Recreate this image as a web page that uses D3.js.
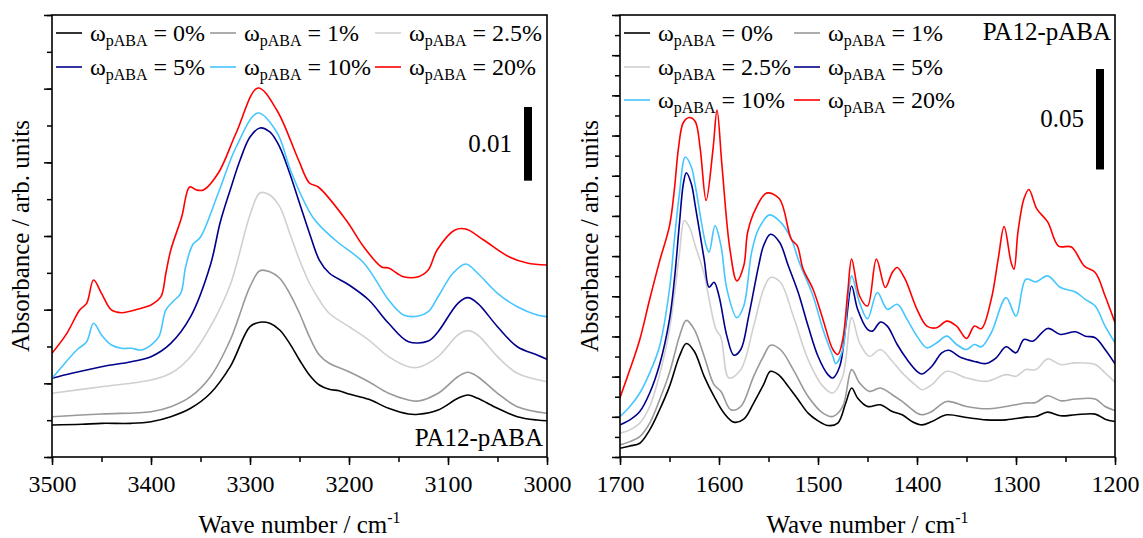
<!DOCTYPE html>
<html>
<head>
<meta charset="utf-8">
<script src="https://cdn.jsdelivr.net/npm/d3@7/dist/d3.min.js"></script>
<style>
  body { margin: 0; background: #fff; }
  svg { display: block; }
  svg text { font-family: "Liberation Serif", "Times New Roman", Times, "DejaVu Serif", serif !important; fill: #000; }
</style>
</head>
<body>
<svg id="chart" width="1143" height="538"></svg>
<script>
// pABA mass fractions, one curve each
var loadings = ["0%", "1%", "2.5%", "5%", "10%", "20%"];
var colors = ["#000000", "#999999", "#d0d0d0", "#00008b", "#45c6ff", "#ff0000"];

// N-H stretching region, [wave number, absorbance x 1e-3] (offset curves)
var nh0 = [[3500,4.34],[3470,4.44],[3450,4.57],[3420,4.57],[3400,4.79],[3380,5.47],[3360,6.61],[3340,8.65],[3320,12.26],[3300,17.69],[3290,18.29],[3280,18.15],[3270,17.24],[3260,15.43],[3250,13.17],[3240,11.13],[3230,9.77],[3220,9.19],[3210,9.0],[3200,8.55],[3180,7.83],[3160,6.61],[3140,5.84],[3130,5.80],[3110,6.38],[3090,7.97],[3080,8.42],[3070,7.97],[3050,6.61],[3030,5.47],[3010,5.02],[3000,4.93]];
var nh1 = [[3500,5.47],[3450,5.84],[3400,6.15],[3380,6.83],[3360,8.19],[3340,10.90],[3320,15.88],[3300,23.12],[3290,25.29],[3280,25.15],[3270,24.26],[3260,22.22],[3250,19.51],[3240,16.33],[3230,13.85],[3220,12.72],[3200,11.58],[3180,10.22],[3160,8.65],[3140,7.74],[3130,7.60],[3110,8.65],[3090,10.90],[3080,11.50],[3070,10.90],[3050,8.65],[3030,6.83],[3000,5.93]];
var nh2_5 = [[3500,8.65],[3450,9.54],[3400,10.45],[3380,11.36],[3360,13.62],[3340,17.69],[3320,23.35],[3300,32.85],[3290,35.84],[3280,35.57],[3270,33.98],[3260,30.41],[3250,26.74],[3240,23.62],[3230,21.31],[3220,19.51],[3200,17.69],[3180,15.88],[3160,13.62],[3140,12.26],[3130,12.18],[3110,13.62],[3090,16.56],[3080,17.15],[3070,16.56],[3050,13.62],[3030,11.36],[3000,10.22]];
var nh5 = [[3500,10.68],[3480,11.36],[3450,12.26],[3420,12.94],[3400,13.62],[3380,15.43],[3360,19.05],[3340,26.06],[3330,31.90],[3320,36.25],[3310,40.32],[3300,43.44],[3290,44.66],[3280,44.12],[3270,42.08],[3260,38.55],[3250,34.48],[3240,30.41],[3230,26.74],[3220,24.98],[3200,23.35],[3180,21.31],[3160,18.15],[3140,15.65],[3120,15.75],[3110,17.01],[3090,20.86],[3080,21.63],[3070,20.86],[3050,17.69],[3030,14.97],[3010,13.85],[3000,13.26]];
var nh10 = [[3500,10.68],[3490,12.26],[3475,14.53],[3465,15.65],[3458,18.15],[3450,16.56],[3440,15.20],[3430,14.76],[3420,14.76],[3410,14.53],[3400,15.20],[3392,16.33],[3385,19.96],[3378,21.08],[3370,22.22],[3365,25.83],[3358,28.78],[3350,29.87],[3332,35.84],[3314,42.08],[3292,46.70],[3273,44.12],[3258,38.55],[3236,32.44],[3214,29.46],[3185,26.34],[3160,21.31],[3145,19.28],[3130,19.14],[3120,19.72],[3110,21.76],[3095,24.94],[3082,26.20],[3070,24.94],[3050,22.22],[3030,20.40],[3010,19.28],[3000,19.05]];
var nh20 = [[3500,14.08],[3485,16.79],[3472,19.96],[3465,20.86],[3458,24.03],[3450,22.22],[3440,19.96],[3430,19.59],[3410,20.19],[3400,20.63],[3390,21.76],[3385,24.94],[3380,28.10],[3369,32.58],[3361,36.65],[3354,36.25],[3347,36.25],[3332,38.55],[3314,43.98],[3292,50.09],[3273,47.11],[3251,40.32],[3240,37.20],[3231,36.65],[3203,32.17],[3185,28.51],[3167,25.79],[3160,25.66],[3145,24.48],[3130,24.48],[3120,25.39],[3111,28.10],[3093,30.82],[3082,30.95],[3064,29.46],[3038,27.15],[3020,26.34],[3000,26.06]];

// fingerprint region, [wave number, absorbance x 1e-3]
var fp0 = [[1700,4.35],[1690,5.5],[1680,6.85],[1670,13.5],[1660,23.5],[1650,35.15],[1640,50.15],[1633,56.5],[1625,52.65],[1615,40.15],[1605,30.15],[1595,21.85],[1585,17.35],[1575,18.85],[1565,26.85],[1555,36],[1548,42.65],[1540,41],[1530,35.15],[1520,28.5],[1510,21.85],[1500,18],[1490,15.65],[1480,16.85],[1472,26.85],[1466,34.35],[1460,29.35],[1450,25.15],[1437,26],[1425,22.65],[1415,21],[1405,17.65],[1395,16],[1385,17.65],[1370,21],[1350,19.65],[1330,18.5],[1310,18.5],[1290,19.85],[1280,20.15],[1268,22.35],[1255,20.5],[1240,21],[1220,21.35],[1210,18.85],[1200,17.65]];
var fp1 = [[1700,6],[1690,7.65],[1680,10.15],[1670,16.85],[1660,28.5],[1650,42],[1645,51],[1640,60],[1633,68],[1625,63.5],[1615,50.15],[1605,36],[1598,32.65],[1588,23.5],[1578,25.15],[1565,40.15],[1555,50.15],[1548,55.65],[1538,53.5],[1525,43.5],[1510,30.15],[1495,21.85],[1485,20.15],[1475,25.15],[1466,43.5],[1458,36.85],[1448,32.65],[1437,34.35],[1425,31],[1415,27.65],[1400,21.85],[1395,21],[1385,22.65],[1370,27.65],[1350,25.15],[1330,24],[1310,25.15],[1290,26.85],[1280,27.15],[1268,30.5],[1255,28],[1240,28.85],[1220,28.85],[1210,25.15],[1200,23.15]];
var fp2_5 = [[1700,11.85],[1690,13.5],[1680,16.85],[1670,25.15],[1660,41],[1650,63.5],[1645,81],[1640,101],[1635,117.65],[1630,114.5],[1624,105.15],[1615,91],[1610,78.5],[1603,63.5],[1598,59.5],[1590,39.35],[1578,43.5],[1565,65.15],[1555,83.5],[1548,89.35],[1538,87],[1525,70.15],[1510,48.5],[1495,35.15],[1485,31.85],[1475,40.15],[1466,69.35],[1458,56.85],[1448,50.15],[1437,53.5],[1425,47.65],[1415,41.85],[1400,35.15],[1395,33.5],[1385,36],[1370,42.65],[1350,39.35],[1330,37.65],[1310,41],[1300,40.15],[1290,43.5],[1280,43.5],[1268,48.85],[1255,46],[1240,46.85],[1220,46],[1210,41.85],[1200,37.15]];
var fp5 = [[1700,16],[1690,18.5],[1680,22.65],[1670,31.85],[1660,46],[1650,68.5],[1645,88.5],[1640,116],[1636,136],[1633,141.5],[1628,136],[1624,125.15],[1615,98.5],[1610,84.5],[1605,87],[1600,80.15],[1592,60.15],[1585,50.65],[1578,53.5],[1570,70.15],[1560,95.15],[1555,105.15],[1548,110.85],[1539,107],[1530,95.15],[1520,81.85],[1510,65.15],[1500,50.15],[1490,41],[1485,39.35],[1478,45.15],[1472,65.15],[1466,85.15],[1460,73.5],[1450,63.5],[1445,62.65],[1437,67.15],[1430,65.15],[1420,56],[1410,48.5],[1400,42.65],[1395,41.35],[1385,45.15],[1375,51.85],[1368,53.15],[1355,49.35],[1340,47.35],[1330,46.5],[1320,49.35],[1310,54.85],[1300,51.85],[1292,58.5],[1283,57.65],[1268,64],[1255,61],[1240,62.35],[1230,60.15],[1220,59.35],[1210,53.5],[1200,46.35]];
var fp10 = [[1700,20.15],[1690,25.15],[1680,31.85],[1670,41.85],[1660,55.15],[1650,83.5],[1645,108.5],[1640,131],[1634,149.35],[1628,144.5],[1624,135.15],[1613,105.15],[1610,102],[1604,115.15],[1598,105.15],[1592,83.5],[1582,69.35],[1575,75.15],[1567,102],[1560,113.5],[1549,120.5],[1538,117],[1527,108.5],[1519,97],[1505,80.15],[1495,63.5],[1485,50.15],[1482,46.5],[1475,53.5],[1470,78.5],[1466,90.15],[1458,76.85],[1450,68.85],[1440,81.85],[1430,73.5],[1420,76],[1410,68.5],[1400,60.15],[1390,54.35],[1380,56.85],[1370,60.15],[1360,56],[1350,53.5],[1342,56],[1335,54.85],[1325,61.85],[1310,79.35],[1300,70.15],[1290,88.5],[1280,87.15],[1268,90.15],[1255,84.35],[1240,82.15],[1230,78.5],[1220,75.15],[1210,65.15],[1200,56.85]];
var fp20 = [[1700,29.5],[1690,43.5],[1680,58.5],[1670,78.5],[1660,97.5],[1650,115],[1645,133.5],[1641,153.5],[1636,166.5],[1630,169],[1624,167],[1619,153.5],[1613,127.65],[1606,153.5],[1602,172.65],[1597,145],[1589,103.5],[1582,87.65],[1575,95.15],[1571,112],[1563,123.5],[1552,131.35],[1539,128.5],[1527,108.5],[1521,105.15],[1515,93.5],[1505,83.5],[1495,68.5],[1485,53.5],[1480,51],[1475,58.5],[1470,81.85],[1466,98.5],[1458,80.15],[1450,75.15],[1441,98.5],[1432,84.35],[1425,91.85],[1420,94.35],[1412,88.5],[1400,73.5],[1390,65.15],[1380,64.35],[1370,67.65],[1360,65.15],[1350,59],[1342,65.15],[1335,63.85],[1325,78.5],[1318,98.5],[1312,114.65],[1305,97],[1302,93.5],[1298,112],[1292,128.5],[1287,133.15],[1279,123.5],[1268,117],[1257,105],[1244,104.5],[1231,95],[1220,91.85],[1210,80.15],[1200,66.85]];

// axis ticks
var nhTicks = [3500, 3400, 3300, 3200, 3100, 3000];
var fpTicks = [1700, 1600, 1500, 1400, 1300, 1200];

var svg = d3.select("#chart");

function drawPanel(o) {
  var w = o.right - o.left, h = o.bottom - o.top;
  var g = svg.append("g").attr("transform", "translate(" + o.left + "," + o.top + ")");

  var x = d3.scaleLinear().domain(o.xDomain).range([0, w]);
  var y = d3.scaleLinear().domain(o.yDomain).range([h, 0]);

  var clipId = "clip" + o.left;
  g.append("clipPath").attr("id", clipId)
    .append("rect").attr("width", w).attr("height", h);

  var line = d3.line()
    .x(function(d) { return x(d[0]); })
    .y(function(d) { return y(d[1]); })
    .curve(d3.curveCatmullRom.alpha(0.5));

  g.append("g").attr("clip-path", "url(#" + clipId + ")")
    .selectAll("path").data(o.series).enter()
    .append("path")
    .attr("d", line)
    .attr("fill", "none")
    .attr("stroke", function(d, i) { return colors[i]; })
    .attr("stroke-width", 1.6);

  // x axis: majors with labels, minors between
  var minorX = d3.range(o.xDomain[0], o.xDomain[1] - 1, -o.xStep / 2);
  var xMinor = g.append("g").attr("transform", "translate(0," + h + ")")
    .call(d3.axisBottom(x).tickValues(minorX).tickSize(5).tickFormat(""));
  var xMajor = g.append("g").attr("transform", "translate(0," + h + ")")
    .call(d3.axisBottom(x).tickValues(o.xTicks).tickSize(8).tickPadding(10).tickFormat(d3.format("d")));
  xMajor.attr("font-family", null).attr("font-size", 24);

  // y axis: unlabeled ticks
  var yMinor = g.append("g")
    .call(d3.axisLeft(y).tickValues(d3.range(o.yDomain[0], o.yDomain[1] + 0.001, o.yStep / 2)).tickSize(5).tickFormat(""));
  var yMajor = g.append("g")
    .call(d3.axisLeft(y).tickValues(d3.range(o.yDomain[0], o.yDomain[1] + 0.001, o.yStep)).tickSize(8).tickFormat(""));

  [xMinor, xMajor, yMinor, yMajor].forEach(function(a) {
    a.select(".domain").remove();
    a.selectAll("line").attr("stroke", "#000").attr("stroke-width", 1.5);
  });

  g.append("rect").attr("width", w).attr("height", h)
    .attr("fill", "none").attr("stroke", "#000").attr("stroke-width", 1.6);

  // axis titles
  var xt = g.append("text").attr("x", w / 2).attr("y", 533 - o.top)
    .attr("text-anchor", "middle").attr("font-size", 25);
  xt.append("tspan").text("Wave number / cm");
  xt.append("tspan").attr("font-size", 16).attr("dy", -10).text("-1");

  g.append("text")
    .attr("transform", "translate(" + (o.yTitleX - o.left) + "," + (h / 2) + ") rotate(-90)")
    .attr("text-anchor", "middle").attr("font-size", 25)
    .text("Absorbance / arb. units");

  // scale bar
  var barLen = y(0) - y(o.bar);
  g.append("rect").attr("x", o.barX - o.left).attr("y", o.barTop - o.top)
    .attr("width", 8).attr("height", barLen).attr("fill", "#000");
  g.append("text").attr("x", o.barX - o.left - 12).attr("y", o.barTop - o.top + barLen / 2 + 8)
    .attr("text-anchor", "end").attr("font-size", 25)
    .text((o.bar / 1000).toFixed(2));

  // sample name
  g.append("text").attr("x", w - 4).attr("y", o.nameY - o.top)
    .attr("text-anchor", "end").attr("font-size", 25).text("PA12-pABA");

  // legend
  var leg = g.selectAll(".leg").data(loadings).enter().append("g")
    .attr("transform", function(d, i) {
      return "translate(" + o.legCols[i % o.nCols] + "," + o.legRows[Math.floor(i / o.nCols)] + ")";
    });
  leg.append("line").attr("x1", 0).attr("x2", 26).attr("y1", 0).attr("y2", 0)
    .attr("stroke", function(d, i) { return colors[i]; }).attr("stroke-width", 1.6);
  var lt = leg.append("text").attr("x", 34).attr("y", 8).attr("font-size", 24);
  lt.append("tspan").text("\u03c9");
  lt.append("tspan").attr("font-size", 16).attr("dy", 5).text("pABA");
  lt.append("tspan").attr("dy", -5).text(function(d) { return " = " + d; });
}

drawPanel({
  left: 52, right: 547, top: 15, bottom: 457,
  xDomain: [3500, 3000], xTicks: nhTicks, xStep: 100,
  yDomain: [0, 60], yStep: 10,
  series: [nh0, nh1, nh2_5, nh5, nh10, nh20],
  yTitleX: 29,
  bar: 10, barX: 524, barTop: 107,
  nameY: 446,
  nCols: 3, legCols: [4, 158, 323], legRows: [18, 52]
});

drawPanel({
  left: 620, right: 1115, top: 15, bottom: 457,
  xDomain: [1700, 1200], xTicks: fpTicks, xStep: 100,
  yDomain: [0, 220], yStep: 20,
  series: [fp0, fp1, fp2_5, fp5, fp10, fp20],
  yTitleX: 598,
  bar: 50, barX: 1096, barTop: 69,
  nameY: 40,
  nCols: 2, legCols: [4, 174], legRows: [18, 52, 85]
});
</script>
</body>
</html>
